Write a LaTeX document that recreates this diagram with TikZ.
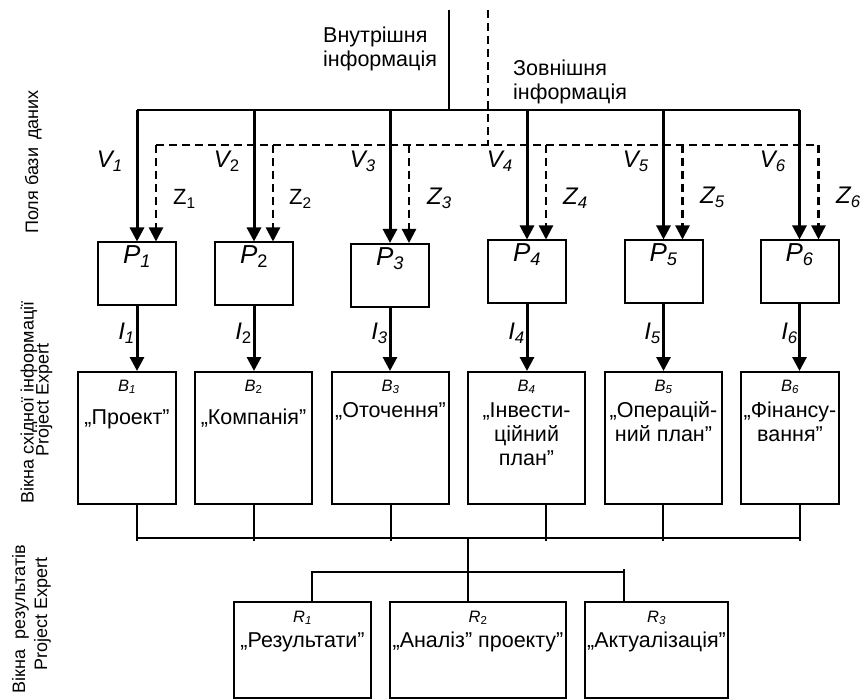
\documentclass[tikz,border=0pt]{standalone}
\usepackage{fontspec}
\setmainfont{Liberation Sans}
\usetikzlibrary{arrows.meta}
\tikzset{
  mainfont/.style={font=\fontsize{21.5}{24}\selectfont, inner sep=0pt},
  sidefont/.style={font=\fontsize{18}{18}\selectfont, inner sep=0pt, rotate=90, anchor=base},
  boxline/.style={draw, line width=2pt, inner sep=0pt},
  pbox/.style={boxline, minimum width=78pt, minimum height=63pt},
  bbox/.style={boxline, minimum height=132pt},
  rbox/.style={boxline, minimum height=96pt},
  busline/.style={line width=2.5pt},
  srcline/.style={line width=2pt},
  dline/.style={line width=2.3pt, dash pattern=on 8pt off 5pt},
  connline/.style={line width=2pt},
  headtri/.style={-{Triangle[length=14pt,width=14pt]}},
  varrow/.style={line width=3pt, headtri},
  zarrow/.style={dline, headtri},
  biglab/.style={font=\fontsize{24}{24}\selectfont\itshape, inner sep=0pt},
  zuplab/.style={font=\fontsize{22}{24}\selectfont, inner sep=0pt},
  plab/.style={font=\fontsize{26}{26}\selectfont\itshape, inner sep=0pt, anchor=north, yshift=-4pt},
  smalllab/.style={font=\fontsize{16.5}{16}\selectfont\itshape, inner sep=0pt, anchor=base},
  boxtext/.style={mainfont, align=center, anchor=base}
}
\begin{document}
\begin{tikzpicture}[x=1pt,y=-1pt]
\useasboundingbox (0,0) rectangle (864,700);

% side labels
\node[sidefont] (s1) at (38,162) {Поля бази \,даних};
\node[sidefont] (s2a) at (33.5,402.5) {Вікна східної інформації};
\node[sidefont] (s2b) at (48.5,400) {Project Expert};
\node[sidefont] (s3a) at (25,619) {Вікна \ результатів};
\node[sidefont] (s3b) at (47,613.5) {Project Expert};

% top texts (anchored at the baseline of the last line)
\node[mainfont, align=left, anchor=base west] (intin) at (323,67) {Внутрішня\\інформація};
\node[mainfont, align=left, anchor=base west] (extin) at (513,100) {Зовнішня\\інформація};

% P boxes
\node[pbox] (p1) at (137,274) {};
\node[pbox] (p2) at (254,274) {};
\node[pbox] (p3) at (390,275.5) {};
\node[pbox] (p4) at (527,272) {};
\node[pbox] (p5) at (663.5,272) {};
\node[pbox] (p6) at (799.5,272) {};
\node[plab] (p1l) at (p1.north) {P\textsubscript{1}};
\node[plab] (p2l) at (p2.north) {P\textsubscript{\textup{2}}};
\node[plab] (p3l) at (p3.north) {P\textsubscript{3}};
\node[plab] (p4l) at (p4.north) {P\textsubscript{4}};
\node[plab] (p5l) at (p5.north) {P\textsubscript{5}};
\node[plab] (p6l) at (p6.north) {P\textsubscript{6}};

% sources
\coordinate (vin) at (449,10);
\coordinate (vbus) at (449,110);
\coordinate (zin) at (488,10);
\coordinate (zbus) at (488,145);
\draw[srcline] (vin) -- (vbus);
\draw[dline] (zin) -- (zbus);
\draw[busline] (p1.north |- vbus) -- (p6.north |- vbus);
\foreach \i in {1,...,6}{
  \path ([xshift=19pt]p\i.north) coordinate (zt\i);
}
\draw[dline] (zt1 |- zbus) -- (zt6 |- zbus);
\foreach \i in {1,...,6}{
  \draw[varrow] (p\i.north |- vbus) -- (p\i.north);
  \draw[zarrow] (zt\i |- zbus) -- (zt\i);
}

% V labels
\node[biglab, anchor=east] (v1) at (123,161) {V\textsubscript{1}};
\node[biglab, anchor=east] (v2) at (240,161) {V\textsubscript{\textup{2}}};
\node[biglab, anchor=east] (v3) at (376,161) {V\textsubscript{3}};
\node[biglab, anchor=east] (v4) at (513,161) {V\textsubscript{4}};
\node[biglab, anchor=east] (v5) at (649,161) {V\textsubscript{5}};
\node[biglab, anchor=east] (v6) at (786,161) {V\textsubscript{6}};

% Z labels
\node[zuplab, anchor=west] (z1) at (173,199) {Z\textsubscript{1}};
\node[zuplab, anchor=west] (z2) at (289,199) {Z\textsubscript{2}};
\node[biglab, anchor=west] (z3) at (427,198) {Z\textsubscript{3}};
\node[biglab, anchor=west] (z4) at (563,198) {Z\textsubscript{4}};
\node[biglab, anchor=west] (z5) at (700,197) {Z\textsubscript{5}};
\node[biglab, anchor=west] (z6) at (836,197) {Z\textsubscript{6}};

% B boxes
\node[bbox, minimum width=98pt] (b1) at (127,438) {};
\node[bbox, minimum width=117pt] (b2) at (253.5,438) {};
\node[bbox, minimum width=117pt] (b3) at (390.5,438) {};
\node[bbox, minimum width=117pt] (b4) at (526.5,438) {};
\node[bbox, minimum width=117pt] (b5) at (663.5,438) {};
\node[bbox, minimum width=98pt] (b6) at (790,438) {};

\foreach \i in {1,...,6}{
  \draw[varrow] (p\i.south) -- (p\i.south |- b\i.north);
}

% I labels
\node[biglab, anchor=east] (i1) at (135,333) {I\textsubscript{1}};
\node[biglab, anchor=east] (i2) at (252,333) {I\textsubscript{\textup{2}}};
\node[biglab, anchor=east] (i3) at (388,333) {I\textsubscript{3}};
\node[biglab, anchor=east] (i4) at (525,333) {I\textsubscript{4}};
\node[biglab, anchor=east] (i5) at (661,333) {I\textsubscript{5}};
\node[biglab, anchor=east] (i6) at (798,333) {I\textsubscript{6}};

% B labels and texts
\node[smalllab, yshift=-20pt] (b1l) at (b1.north) {B\textsubscript{1}};
\node[smalllab, yshift=-20pt] (b2l) at (b2.north) {B\textsubscript{\textup{2}}};
\node[smalllab, yshift=-20pt] (b3l) at (b3.north) {B\textsubscript{3}};
\node[smalllab, yshift=-20pt] (b4l) at (b4.north) {B\textsubscript{4}};
\node[smalllab, yshift=-20pt] (b5l) at (b5.north) {B\textsubscript{5}};
\node[smalllab, yshift=-20pt] (b6l) at (b6.north) {B\textsubscript{6}};
\node[boxtext, yshift=-53pt] (b1t) at (b1.north) {„Проект”};
\node[boxtext, yshift=-53pt] (b2t) at (b2.north) {„Компанія”};
\node[boxtext, yshift=-46pt] (b3t) at (b3.north) {„Оточення”};
\node[boxtext, yshift=-94pt] (b4t) at (b4.north) {„Інвести-\\ційний\\план”};
\node[boxtext, yshift=-70pt] (b5t) at (b5.north) {„Операцій-\\ний план”};
\node[boxtext, yshift=-70pt] (b6t) at (b6.north) {„Фінансу-\\вання”};

% bottom bus
\coordinate (c1) at (137,538);
\coordinate (c2) at (254,538);
\coordinate (c3) at (391,538);
\coordinate (c4) at (546,538);
\coordinate (c5) at (663,538);
\coordinate (c6) at (800,538);
\foreach \i in {1,...,6}{
  \draw[connline] (b\i.south -| c\i) -- ([yshift=-3pt]c\i);
}
\draw[connline] (c1) -- (c6);

% R boxes
\node[rbox, minimum width=137pt] (r1) at (302.5,650) {};
\node[rbox, minimum width=176pt] (r2) at (478,650) {};
\node[rbox, minimum width=143pt] (r3) at (656.5,650) {};
\coordinate (bbus) at (468,538);
\coordinate (rbus) at (468,572);
\coordinate (rb1) at (312,572);
\coordinate (rb3) at (624,572);
\draw[connline] (bbus) -- (r2.north -| rbus);
\draw[connline] (r1.north -| rb1) -- (rb1) -- (rb3);
\draw[connline] ([yshift=3pt]rb3) -- (r3.north -| rb3);

\node[smalllab, yshift=-21pt] (r1l) at (r1.north) {R\textsubscript{1}};
\node[smalllab, yshift=-21pt] (r2l) at (r2.north) {R\textsubscript{\textup{2}}};
\node[smalllab, yshift=-21pt] (r3l) at (r3.north) {R\textsubscript{3}};
\node[boxtext, yshift=-46pt] (r1t) at (r1.north) {„Результати”};
\node[boxtext, yshift=-46pt] (r2t) at (r2.north) {„Аналіз” проекту”};
\node[boxtext, yshift=-46pt] (r3t) at (r3.north) {„Актуалізація”};
\end{tikzpicture}
\end{document}
